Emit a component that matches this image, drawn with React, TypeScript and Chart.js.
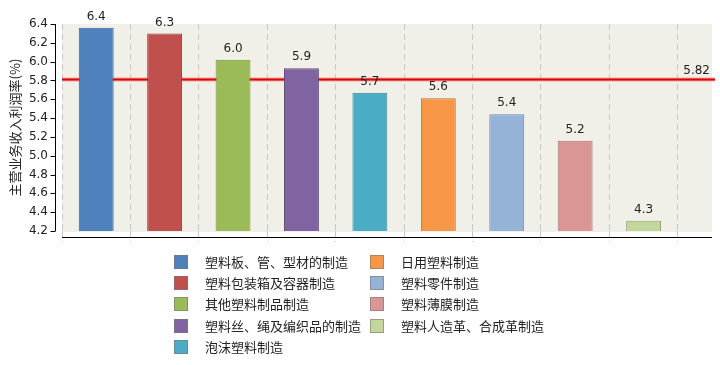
import React, { useEffect, useRef } from "react";
import { Chart, registerables } from "chart.js";
Chart.register(...registerables);

const categories = [
  "塑料板、管、型材的制造",
  "塑料包装箱及容器制造",
  "其他塑料制品制造",
  "塑料丝、绳及编织品的制造",
  "泡沫塑料制造",
  "日用塑料制造",
  "塑料零件制造",
  "塑料薄膜制造",
  "塑料人造革、合成革制造",
];
const values = [6.36, 6.3, 6.02, 5.93, 5.67, 5.61, 5.44, 5.16, 4.31];
const fillColors = ["#4F81BD", "#C0504D", "#9BBB59", "#8064A2", "#4BACC6", "#F79646", "#95B3D7", "#D99694", "#C3D69B"];
const borderColors = ["#3A6290", "#943D3A", "#76903F", "#5F4A7A", "#35869B", "#BC6F32", "#7089A8", "#A87371", "#94A673"];
const yTicks = [4.2, 4.4, 4.6, 4.8, 5.0, 5.2, 5.4, 5.6, 5.8, 6.0, 6.2, 6.4];
const xGridTicks = [-0.5, 0.5, 1.5, 2.5, 3.5, 4.5, 5.5, 6.5, 7.5, 8.5];
const averageValue = 5.82;
const averageLabel = "5.82";
const yTitle = "主营业务收入利润率(%)";

const NUM_FONT = "12px 'DejaVu Sans', Verdana, sans-serif";
const CJK_FONT = "13px 'Noto Sans CJK SC', sans-serif";

export default function App() {
  const ref = useRef<HTMLCanvasElement | null>(null);
  useEffect(() => {
    if (!ref.current) return;
    const decor = {
      id: "decor",
      beforeDraw(chart: any) {
        const { ctx, chartArea: a } = chart;
        ctx.save();
        ctx.fillStyle = "#F0F0E8";
        ctx.fillRect(a.left, a.top, a.right - a.left, a.bottom - a.top + 1);
        ctx.restore();
      },
      beforeDatasetsDraw(chart: any) {
        const { ctx, chartArea: a, scales } = chart;
        const y = Math.round(scales.y.getPixelForValue(averageValue)) + 0.5;
        ctx.save();
        ctx.strokeStyle = "rgba(240,80,80,0.45)";
        ctx.lineWidth = 4;
        ctx.beginPath();
        ctx.moveTo(a.left, y);
        ctx.lineTo(a.right + 3, y);
        ctx.stroke();
        ctx.strokeStyle = "#E00000";
        ctx.lineWidth = 2;
        ctx.beginPath();
        ctx.moveTo(a.left, y);
        ctx.lineTo(a.right + 3, y);
        ctx.stroke();
        ctx.fillStyle = "#222";
        ctx.font = NUM_FONT;
        ctx.textAlign = "right";
        ctx.textBaseline = "bottom";
        ctx.fillText(averageLabel, a.right - 2, y - 3);
        ctx.restore();
      },
      afterDatasetsDraw(chart: any) {
        const { ctx } = chart;
        const meta = chart.getDatasetMeta(0);
        ctx.save();
        ctx.fillStyle = "#222";
        ctx.font = NUM_FONT;
        ctx.textAlign = "center";
        ctx.textBaseline = "bottom";
        meta.data.forEach((bar: any, i: number) => {
          ctx.fillText(values[i].toFixed(1), bar.x, bar.y - 5);
        });
        ctx.restore();
      },
      afterDraw(chart: any) {
        const { ctx, chartArea: a, scales } = chart;
        ctx.save();
        ctx.strokeStyle = "#000";
        ctx.lineWidth = 1;
        const ax = a.left - 6.5;
        ctx.beginPath();
        ctx.moveTo(ax, a.top);
        ctx.lineTo(ax, a.bottom);
        yTicks.forEach((t) => {
          const py = Math.round(scales.y.getPixelForValue(t)) + 0.5;
          ctx.moveTo(ax - 5, py);
          ctx.lineTo(ax, py);
        });
        const by = a.bottom + 6.5;
        ctx.moveTo(a.left, by);
        ctx.lineTo(a.right, by);
        ctx.stroke();
        ctx.font = CJK_FONT;
        ctx.textAlign = "left";
        ctx.textBaseline = "middle";
        categories.forEach((c, i) => {
          const col = i < 5 ? 0 : 1;
          const row = i < 5 ? i : i - 5;
          const sx = col === 0 ? 174 : 370;
          const tx = col === 0 ? 205 : 401;
          const cy = 262 + row * 21.2;
          ctx.fillStyle = fillColors[i];
          ctx.fillRect(sx, Math.round(cy - 7), 14, 14);
          ctx.strokeStyle = "rgba(120,120,120,0.6)";
          ctx.strokeRect(sx + 0.5, Math.round(cy - 7) + 0.5, 13, 13);
          ctx.fillStyle = "#222";
          ctx.fillText(c, tx, cy);
        });
        ctx.restore();
      },
    };

    const chart = new Chart(ref.current, {
      type: "bar",
      data: {
        labels: categories,
        datasets: [
          {
            data: values.map((v, i) => ({ x: i, y: v })) as any,
            backgroundColor: fillColors,
            borderColor: borderColors,
            borderWidth: 1,
            borderSkipped: false,
            barPercentage: 0.51,
            categoryPercentage: 1,
          },
        ],
      },
      options: {
        animation: false,
        responsive: true,
        maintainAspectRatio: false,
        layout: { padding: { top: 24, right: 8, left: 0, bottom: 134 } },
        plugins: { legend: { display: false }, tooltip: { enabled: false } },
        scales: {
          x: {
            type: "linear",
            min: -0.5,
            max: 9,
            offset: false,
            afterBuildTicks(scale: any) {
              scale.ticks = xGridTicks.map((v) => ({ value: v }));
            },
            afterFit(scale: any) {
              scale.height = 0;
            },
            ticks: { display: false },
            border: { display: false, dash: [6, 4] },
            grid: {
              offset: false,
              color: "#C8C8C8",
              drawTicks: true,
              tickLength: 11,
              tickColor: "#C8C8C8",
              tickBorderDash: [6, 4],
            } as any,
          },
          y: {
            min: 4.2,
            max: 6.4,
            afterBuildTicks(scale: any) {
              scale.ticks = yTicks.map((v) => ({ value: v }));
            },
            afterFit(scale: any) {
              scale.width = 62;
            },
            border: { display: false },
            grid: { display: false, drawTicks: false },
            ticks: {
              padding: 14,
              color: "#222",
              font: { family: "'DejaVu Sans', Verdana, sans-serif", size: 12 },
              callback: (v: any) => Number(v).toFixed(1),
            },
            title: {
              display: true,
              text: yTitle,
              color: "#222",
              font: { family: "'Noto Sans CJK SC', sans-serif", size: 13 },
              padding: { top: 7, bottom: 0 },
            },
          },
        },
      },
      plugins: [decor],
    });
    return () => chart.destroy();
  }, []);

  return (
    <div style={{ position: "absolute", left: 0, top: 0, width: 720, height: 365, background: "#fff" }}>
      <canvas ref={ref} />
    </div>
  );
}
